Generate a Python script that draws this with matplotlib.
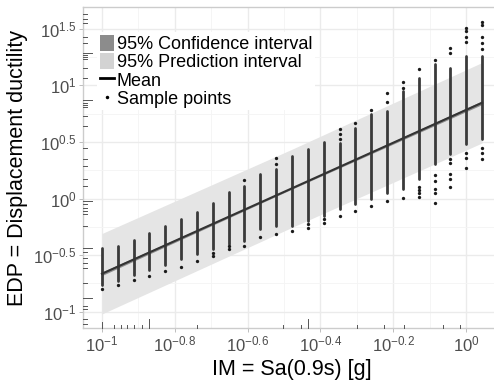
import numpy as np
import matplotlib
matplotlib.use("Agg")
import matplotlib.pyplot as plt
from matplotlib.patches import Patch
from matplotlib.lines import Line2D
from matplotlib.ticker import FixedLocator, NullFormatter

plt.rcParams['font.family'] = ['Liberation Sans', 'DejaVu Sans']
plt.rcParams['mathtext.fontset'] = 'custom'
plt.rcParams['mathtext.rm'] = 'Liberation Sans'
plt.rcParams['mathtext.it'] = 'Liberation Sans:italic'
plt.rcParams['mathtext.bf'] = 'Liberation Sans:bold'

# ---- data (IM in g, EDP as log10 values) ----
im_values = [0.100, 0.1105, 0.1222, 0.1350, 0.1493, 0.1650, 0.1824, 0.2016,
             0.2228, 0.2463, 0.2723, 0.3010, 0.3327, 0.3678, 0.4064, 0.4493,
             0.4966, 0.5490, 0.6067, 0.6707, 0.7413, 0.8194, 0.9057, 1.001,
             1.107]
dense_low_log = [-0.761, -0.726, -0.673, -0.629, -0.585, -0.532, -0.488, -0.443,
                 -0.399, -0.373, -0.267, -0.240, -0.240, -0.196, -0.152, -0.090,
                 -0.046, -0.002, 0.051, 0.087, 0.175, 0.307, 0.396, 0.484, 0.528]
dense_high_log = [-0.435, -0.417, -0.364, -0.302, -0.240, -0.178, -0.117, -0.037,
                  0.060, 0.113, 0.219, 0.263, 0.378, 0.440, 0.502, 0.493,
                  0.625, 0.749, 0.776, 0.952, 1.067, 1.191, 1.155, 1.261, 1.261]
isolated_log = [
    [-0.797],
    [-0.761],
    [-0.717],
    [-0.682],
    [-0.638],
    [-0.602],
    [-0.549],
    [-0.479, -0.505],
    [-0.417, -0.443],
    [0.166, -0.417],
    [-0.337],
    [0.360, 0.307, -0.311],
    [-0.284],
    [-0.223, -0.258],
    [-0.178, -0.214],
    [0.617, 0.572, 0.528, -0.152],
    [0.670, -0.108],
    [0.784, -0.064],
    [0.935, 0.855, -0.019],
    [1.032, 0.979, 0.007],
    [1.147, 0.104, 0.078, 0.051, 0.016],
    [1.226, 0.210, 0.157, 0.087, 0.051, -0.037],
    [1.332, 1.288, 0.352, 0.316, 0.219, 0.175, 0.104],
    [1.509, 1.482, 1.429, 1.385, 0.405, 0.360, 0.272],
    [1.562, 1.535, 1.429, 1.376, 1.323, 0.449, 0.405, 0.352],
]

fit_im = [0.100, 0.333, 1.107]
fit_mean_log = [-0.664, 0.091, 0.846]
pi_half_log = [0.355, 0.345, 0.355]
ci_half_log = [0.016, 0.007, 0.016]

x_tick_exps = [-1, -0.8, -0.6, -0.4, -0.2, 0]
x_tick_labels = [r"$10^{-1}$", r"$10^{-0.8}$", r"$10^{-0.6}$", r"$10^{-0.4}$", r"$10^{-0.2}$", r"$10^{0}$"]
y_tick_exps = [-1, -0.5, 0, 0.5, 1, 1.5]
y_tick_labels = [r"$10^{-1}$", r"$10^{-0.5}$", r"$10^{0}$", r"$10^{0.5}$", r"$10^{1}$", r"$10^{1.5}$"]

# log-tick annotation marks (exponents) and their kind (0 short, 1 mid, 2 long)
x_logtick_exps = [-1.0, -0.967, -0.948, -0.931, -0.912, -0.890, -0.871, -0.738, -0.504,
                  -0.452, -0.433, -0.300, -0.226, -0.171, -0.063, -0.017]
x_logtick_kind = [1, 0, 0, 0, 0, 0, 2, 0, 0, 0, 2, 0, 0, 0, 0, 0]
y_logtick_exps = [1.633, 1.588, 1.553, 1.429, 1.376, 1.288, 1.270, 1.253, 1.235, 1.155,
                  1.067, 0.873, 0.846, 0.829, 0.811, 0.731, 0.643, 0.449, 0.352, 0.290,
                  0.175, 0.113, -0.019, -0.046, -0.081, -0.108, -0.134, -0.240, -0.435,
                  -0.470, -0.523, -0.567, -0.611, -0.744, -0.876, -0.947, -0.973, -1.062,
                  -1.106]
y_logtick_kind = [0, 0, 0, 0, 0, 2, 0, 0, 0, 0,
                  0, 2, 0, 0, 0, 0, 0, 0, 0, 0,
                  0, 0, 2, 0, 0, 0, 0, 0, 2,
                  0, 0, 0, 0, 0, 2, 0, 0, 0,
                  0]

# ---- figure ----
W, H = 494, 383
fig = plt.figure(figsize=(W / 100, H / 100), dpi=100)
fig.patch.set_facecolor('white')
ax = fig.add_axes([83 / W, 55 / H, 418 / W, 321 / H])
ax.set_xscale('log')
ax.set_yscale('log')
ax.set_xlim(10 ** -1.052, 10 ** 0.096)
ax.set_ylim(10 ** -1.143, 10 ** 1.691)
ax.set_facecolor('white')

# grid
ax.xaxis.set_major_locator(FixedLocator([10 ** e for e in x_tick_exps]))
ax.xaxis.set_minor_locator(FixedLocator([10 ** e for e in [-0.9, -0.7, -0.5, -0.3, -0.1]]))
ax.yaxis.set_major_locator(FixedLocator([10 ** e for e in y_tick_exps]))
ax.yaxis.set_minor_locator(FixedLocator([10 ** e for e in [-0.75, -0.25, 0.25, 0.75, 1.25]]))
ax.xaxis.set_minor_formatter(NullFormatter())
ax.yaxis.set_minor_formatter(NullFormatter())
ax.set_xticklabels(x_tick_labels)
ax.set_yticklabels(y_tick_labels)
ax.grid(which='major', color='#ebebeb', lw=1.0)
ax.grid(which='minor', color='#f4f4f4', lw=0.6)
ax.set_axisbelow(True)
ax.tick_params(which='minor', length=0)
ax.tick_params(which='major', length=2.75, width=0.6, color='#b3b3b3',
               labelcolor='#4d4d4d', labelsize=12, pad=2)

for s in ax.spines.values():
    s.set_color('#cccccc')
    s.set_linewidth(1.0)

# bands
fx = np.array(fit_im)
fm = np.array(fit_mean_log)
pi = np.array(pi_half_log)
ci = np.array(ci_half_log)
ax.fill_between(fx, 10 ** (fm - pi), 10 ** (fm + pi), color='#e5e5e5', lw=0, zorder=1)
ax.fill_between(fx, 10 ** (fm - ci), 10 ** (fm + ci), color='#8c8c8c', lw=0, zorder=2)

# points
for x, lo, hi, extra in zip(im_values, dense_low_log, dense_high_log, isolated_log):
    lc = ax.vlines(x, 10 ** lo, 10 ** hi, colors='#3a3a3a', lw=2.0, zorder=3)
    lc.set_capstyle('round')
    ax.plot([x] * len(extra), [10 ** v for v in extra], 'o', ms=2.4,
            color='#1a1a1a', mec='none', zorder=3)

# mean line
ax.plot(fx, 10 ** fm, color='#333333', lw=1.5, zorder=4)

# log tick annotations (inside)
lens = {0: 3.5, 1: 6.0, 2: 9.0}
for e, k in zip(x_logtick_exps, x_logtick_kind):
    ax.plot([10 ** e, 10 ** e], [0, lens[k] / 321], transform=ax.get_xaxis_transform(),
            color='#555555', lw=0.7, clip_on=False, zorder=5)
for e, k in zip(y_logtick_exps, y_logtick_kind):
    ax.plot([0, lens[k] / 418], [10 ** e, 10 ** e], transform=ax.get_yaxis_transform(),
            color='#555555', lw=0.7, clip_on=False, zorder=5)

# labels
ax.set_xlabel('IM = Sa(0.9s) [g]', fontsize=15.5, color='black', labelpad=3)
ax.set_ylabel('EDP = Displacement ductility', fontsize=15.5, color='black', labelpad=4)

# legend
handles = [Patch(facecolor='#8c8c8c', edgecolor='none'),
           Patch(facecolor='#d3d3d3', edgecolor='none'),
           Line2D([], [], color='black', lw=2),
           Line2D([], [], ls='none', marker='o', ms=2.5, color='black', mec='none')]
labels = ['95% Confidence interval', '95% Prediction interval', 'Mean', 'Sample points']
leg = ax.legend(handles, labels, loc='upper left',
                bbox_to_anchor=(97 / W, 1 - 32 / H), bbox_transform=fig.transFigure,
                fontsize=13, frameon=True, facecolor='white', edgecolor='none',
                framealpha=1, fancybox=False, borderpad=0.15, labelspacing=0.0,
                handlelength=0.8, handleheight=1.0, handletextpad=0.15,
                borderaxespad=0)
leg.set_zorder(10)

fig.savefig('out.png', dpi=100)
